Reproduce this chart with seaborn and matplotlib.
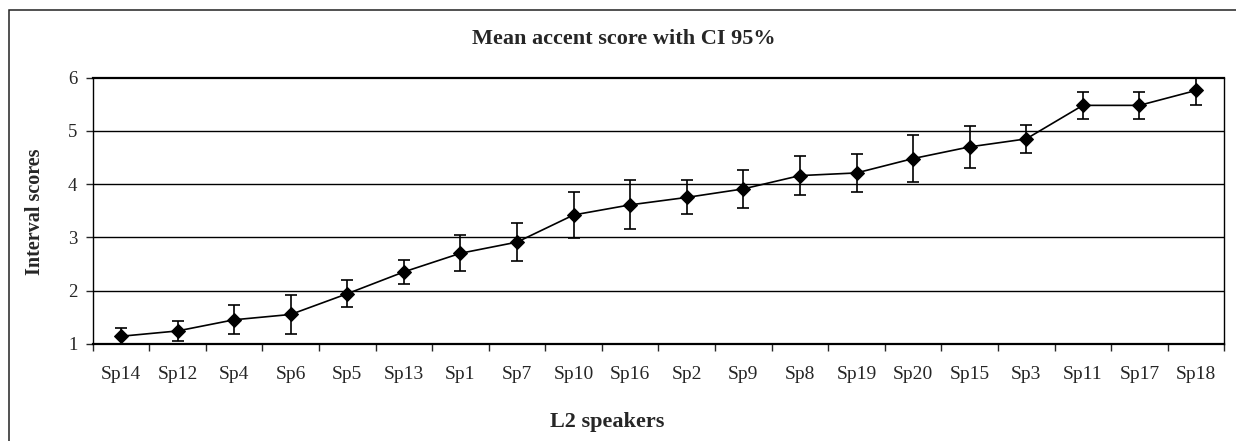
import matplotlib
matplotlib.use("Agg")
import matplotlib.pyplot as plt
import seaborn as sns
import numpy as np
from matplotlib.patches import Rectangle

# ── Données ──────────────────────────────────────────────
speakers = ["Sp14", "Sp12", "Sp4", "Sp6", "Sp5", "Sp13", "Sp1", "Sp7", "Sp10", "Sp16",
            "Sp2", "Sp9", "Sp8", "Sp19", "Sp20", "Sp15", "Sp3", "Sp11", "Sp17", "Sp18"]
mean_score = [1.14, 1.24, 1.45, 1.55, 1.94, 2.35, 2.70, 2.91, 3.42, 3.61,
              3.75, 3.91, 4.16, 4.21, 4.48, 4.70, 4.85, 5.48, 5.48, 5.76]
ci_half = [0.15, 0.19, 0.27, 0.36, 0.25, 0.23, 0.34, 0.35, 0.43, 0.46,
           0.32, 0.35, 0.37, 0.35, 0.44, 0.39, 0.26, 0.25, 0.25, 0.27]
y_ticks = [1, 2, 3, 4, 5, 6]

sns.set_style("white")
plt.rcParams["font.family"] = ["Liberation Serif", "DejaVu Serif"]

fig = plt.figure(figsize=(12.36, 4.41), dpi=100)
ax = fig.add_axes([0.075, 0.2206, 0.9155, 0.6032])

# cadre extérieur (style Excel)
fig.patches.append(Rectangle((0.0073, -0.05), 1.1, 0.977 + 0.05, transform=fig.transFigure,
                             fill=False, edgecolor="#222222", linewidth=1.1, zorder=0))

# grille horizontale
for yv in y_ticks[1:-1]:
    ax.axhline(yv, color="black", linewidth=1.0, zorder=1)

sns.lineplot(x=speakers, y=mean_score, ax=ax, color="black", linewidth=1.2,
             marker="D", markersize=7, markeredgecolor="black", zorder=3, sort=False)
ax.errorbar(np.arange(len(speakers)), mean_score, yerr=ci_half, fmt="none",
            ecolor="black", elinewidth=1.2, capsize=4.5, capthick=1.2, zorder=2)

ax.set_xlim(-0.5, len(speakers) - 0.5)
ax.set_ylim(1, 6)
ax.set_yticks(y_ticks)
ax.set_xticks(np.arange(len(speakers)))
ax.set_xticklabels(speakers)
ax.set_xticks(np.arange(len(speakers) + 1) - 0.5, minor=True)
ax.tick_params(axis="x", which="major", length=0, pad=16, labelsize=14)
ax.tick_params(axis="x", which="minor", length=5, width=1, direction="out", bottom=True)
ax.tick_params(axis="y", length=5, width=1, direction="out", left=True, pad=6, labelsize=13.5)
ax.set_xlabel("")
ax.set_ylabel("")

for side in ["top", "bottom"]:
    ax.spines[side].set_linewidth(1.6)
for side in ["left", "right"]:
    ax.spines[side].set_linewidth(1.0)
for s in ax.spines.values():
    s.set_color("black")

fig.text(0.505, 0.911, "Mean accent score with CI 95%", ha="center", va="center",
         fontsize=16, fontweight="bold")
fig.text(0.491, 0.044, "L2 speakers", ha="center", va="center",
         fontsize=16, fontweight="bold")
fig.text(0.028, 0.52, "Interval scores", ha="center", va="center", rotation=90,
         fontsize=14.5, fontweight="bold")

fig.savefig("out.png", dpi=100)
